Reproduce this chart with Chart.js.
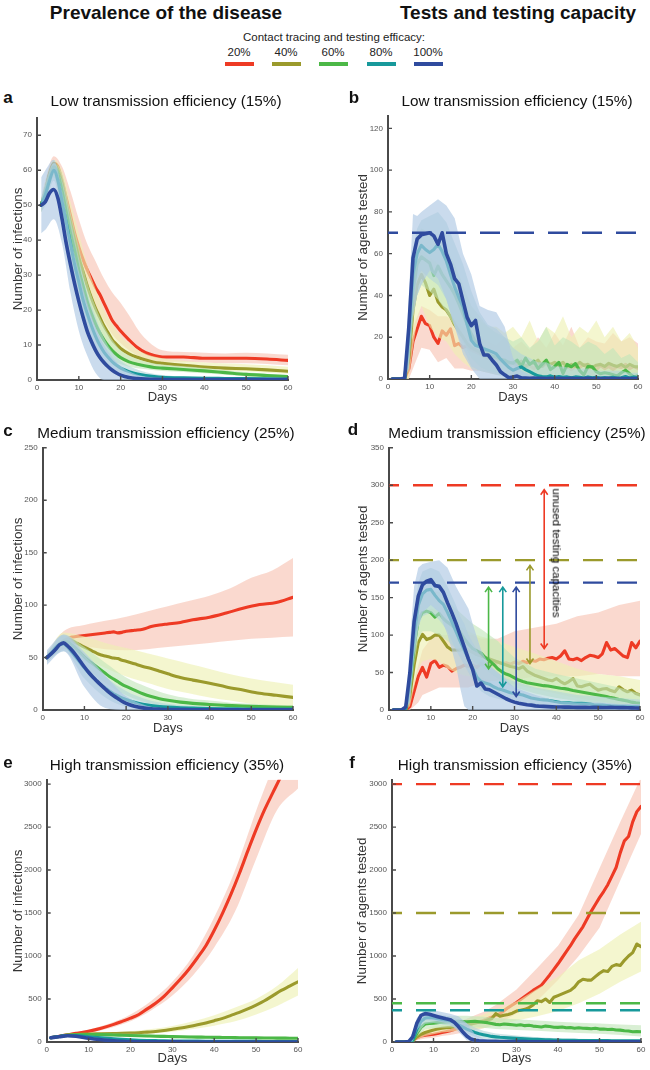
<!DOCTYPE html>
<html>
<head>
<meta charset="utf-8">
<title>Contact tracing and testing efficacy</title>
<script src="https://cdn.jsdelivr.net/npm/chart.js@4.4.1/dist/chart.umd.min.js"></script>
<style>
  body { margin: 0; background: #fff; font-family: 'Liberation Sans', Arial, Helvetica, sans-serif; }
  #page { position: relative; width: 650px; height: 1070px; overflow: hidden; }
  canvas { position: absolute; }
  .t { position: absolute; transform: translate(-50%, -50%); white-space: nowrap; color: #111; line-height: 1; }
  .hdr { font-weight: bold; font-size: 19px; }
  .lg { font-size: 11.5px; color: #222; }
  .sw { position: absolute; height: 4px; width: 29px; top: 62px; }
  .ttl { font-size: 15.3px; }
  .let { font-weight: bold; font-size: 17px; }
  .rot { font-size: 11.5px; color: #000; transform: translate(-50%, -50%) rotate(90deg); }
</style>
</head>
<body>
<div id="page">
  <canvas id="chartA"></canvas>
  <canvas id="chartB"></canvas>
  <canvas id="chartC"></canvas>
  <canvas id="chartD"></canvas>
  <canvas id="chartE"></canvas>
  <canvas id="chartF"></canvas>

  <div class="t hdr" style="left:166px;top:12px">Prevalence of the disease</div>
  <div class="t hdr" style="left:518px;top:12px">Tests and testing capacity</div>
  <div class="t lg" style="left:334px;top:38px">Contact tracing and testing efficacy:</div>
  <div class="t lg" style="left:239px;top:53px">20%</div>
  <div class="t lg" style="left:286px;top:53px">40%</div>
  <div class="t lg" style="left:333px;top:53px">60%</div>
  <div class="t lg" style="left:381px;top:53px">80%</div>
  <div class="t lg" style="left:428px;top:53px">100%</div>
  <div class="sw" style="left:225px;background:#ee3a24"></div>
  <div class="sw" style="left:272px;background:#9b9a2c"></div>
  <div class="sw" style="left:319px;background:#4cb847"></div>
  <div class="sw" style="left:367px;background:#17999b"></div>
  <div class="sw" style="left:414px;background:#2f4b9e"></div>

  <div class="t let" style="left:8px;top:97px">a</div>
  <div class="t ttl" style="left:166px;top:101px">Low transmission efficiency (15%)</div>
  <div class="t let" style="left:354px;top:97px">b</div>
  <div class="t ttl" style="left:517px;top:101px">Low transmission efficiency (15%)</div>
  <div class="t let" style="left:8px;top:430px">c</div>
  <div class="t ttl" style="left:166px;top:433px">Medium transmission efficiency (25%)</div>
  <div class="t let" style="left:353px;top:429px">d</div>
  <div class="t ttl" style="left:517px;top:433px">Medium transmission efficiency (25%)</div>
  <div class="t let" style="left:8px;top:762px">e</div>
  <div class="t ttl" style="left:167px;top:765px">High transmission efficiency (35%)</div>
  <div class="t let" style="left:352px;top:762px">f</div>
  <div class="t ttl" style="left:515px;top:765px">High transmission efficiency (35%)</div>

  <div class="t rot" style="left:556px;top:553px">unused testing capacities</div>
</div>

<script>
/* ---------- shared ---------- */
const dayTicks = [0, 10, 20, 30, 40, 50, 60];
const days60 = Array.from({ length: 60 }, (_, i) => i + 1);

/* ---------- a: infections, low transmission ---------- */
const dayA = [1,2,3,4,5,6,7,8,9,10,11,12,13,14,15,16,17,18,19,20,22,24,26,28,30,35,40,45,50,55,60];
const a20  = [50,54,59,62,61,57,52,47,42,38,34.5,31.5,29,26.5,24.5,22,19.5,17,15.5,14,11.5,9.3,7.8,7,6.6,6.6,6.2,6.2,6.2,6.0,5.6];
const a40  = [50,54,59,62,60,56,50,45,40,35,31,27,23.5,20.5,18,15.5,13.5,11.5,10.2,9,7.5,6.5,5.7,5.1,4.8,4.2,3.7,3.4,3.2,2.9,2.5];
const a60  = [50,54,58,61,59,54,48,42,37,31.5,27,22.5,19,16,13.5,11.5,9.8,8.4,7.3,6.4,5.2,4.5,4,3.6,3.4,3.0,2.6,2.1,1.6,1.3,1.0];
const a80  = [50,53,57,60,57,51,45,39,33,28,23,19,15.5,12.5,10,8,6.5,5.2,4.2,3.4,2.4,1.7,1.3,1.0,0.8,0.6,0.5,0.45,0.4,0.35,0.3];
const a100 = [50,51,53.5,54.5,52,46,39,33,27.5,22.5,18,14,11,8.5,6.5,5,3.8,2.8,2,1.4,0.7,0.4,0.25,0.2,0.15,0.1,0.1,0.1,0.1,0.1,0.1];
const bandDayA = [1,2,4,6,8,10,12,14,16,18,20,22,25,30,35,40,45,50,55,60];
const a20Lo  = [48,51,59,53,41,33,26,21,17,13,10.5,8.5,6.5,5.2,5.2,5,4.8,4.8,4.6,4.2];
const a20Hi  = [52,57,64,61,54,46,39,34,29,25,22,18.5,13,8.5,8,7.8,7.6,7.8,7.6,7.2];
const a40Lo  = [48,51,58,50,38,28,21,15,11,8,6.5,5.5,4.5,3.8,3.3,2.9,2.6,2.4,2.1,1.8];
const a40Hi  = [52,57,63,60,51,42,33,26,20,16,12.5,10.5,8,6.2,5.5,5,4.7,4.5,4.2,3.8];
const a60Lo  = [48,51,58,48,35,25,17,11,7.5,5.5,4.5,3.8,3.2,2.6,2.3,1.9,1.5,1.1,0.8,0.6];
const a60Hi  = [52,56,62,59,48,38,28,21,15.5,11.5,8.5,7,5.6,4.4,3.9,3.4,2.8,2.2,1.8,1.4];
const a80Lo  = [48,50,57,46,32,21,13,7.5,4.5,3,2,1.3,0.7,0.4,0.3,0.2,0.2,0.2,0.2,0.1];
const a80Hi  = [52,56,62,57,46,35,25,18,12,8,5.5,4,2.6,1.4,1,0.9,0.8,0.7,0.6,0.5];
const a100Lo = [42,43,46,39,25,14,7,2,0,0,0,0,0,0,0,0,0,0,0,0];
const a100Hi = [58,60,63,54,41,31,22,15,10,6.5,4,2.5,1.2,0.6,0.4,0.3,0.3,0.3,0.3,0.3];
const ticksA = [0,10,20,30,40,50,60,70];

/* ---------- b: tests, low transmission ---------- */
const b20  = [0,0,0,0,5,18,24,30,26.5,25.5, 20,17,23,21,24,16,17,15,16,14, 13,12,11,10,10.5,9,8.5,8,7,7.5, 6,7.5,5.5,6.5,5,7,6,7.5,5,6, 7,5,6.5,4.5,6,5.5,7,5,6,4.5, 6.5,5,6,4.5,6,5.5,7,5,6,5];
const b40  = [0,0,0,0,10,33,45,50,46,40, 43,37,34.5,33,30,26,23,20,17,15, 14,13,11,10,9.5,10,9,8,7.5,8, 7,8.5,6,7.5,7.4,9,6,8.5,7,8, 6.5,8,5.5,7,6,8,6.5,7,5.5,6.6, 7,6,7.5,6.6,6,7,5.5,7,6,5.8];
const b60  = [0,0,0,0,15,42,55,58.5,57,55.5, 49.5,54,50,47,44,40.5,36,31,26,21.5, 18,15.5,13.5,12,11,10.5,9.5,9,8,7.5, 9,6,10,7,8.5,5,7,9,4.5,6, 8,2.6,7,5.8,7.4,4,2,6,5.8,3.5, 2.5,3,2.6,2,1.4,3,4.2,2.5,1,1.5];
const b80  = [0,0,0,0,20,50,60,64,62,60.5, 62,64.5,61,56.5,50,44,39,34.5,26,18.5, 16,15.5,14.5,13.8,13,12,9.5,7.5,5.5,4.2, 5,5.8,4.5,3.5,2.5,1.5,1.2,1,1.5,0.8, 1.2,0.8,1,0.6,1,0.8,0.5,1,0.6,0.8, 0.5,0.7,0.5,0.8,0.5,0.6,1.2,0.5,1,0.6];
const b100 = [0,0,0,0.5,25,58,67,69,69.5,70, 68.5,64.5,70,60,55,48,45.5,37.5,29.5,25.5, 28,17,11.5,11.5,9,6.7,3.5,2,0.6,1, 1.4,0.5,0.4,0.3,0.5,0.3,0.3,0.2,0.3,0.2, 0.3,0.2,0.2,0.3,0.2,0.2,0.2,0.3,0.2,0.2, 0.2,0.2,0.3,0.2,0.2,0.2,0.2,0.2,0.2,0.2];
const bandDayB = [4,5,6,7,8,10,12,14,16,18,20,22,24,26,28,30,32,34,36,38,40,42,44,46,48,50,52,54,56,58,60];
const b20Lo  = [0,0,5,10,15,14,8,10,5,5,4,4,3,2,2,1,1,0,0,0,0,0,0,0,0,0,0,0,0,0,0];
const b20Hi  = [0,15,25,30,35,33,30,30,28,25,22,20,18,16,20,15,18,14,20,15,22,16,25,15,20,18,17,22,18,20,17];
const b40Lo  = [0,0,15,28,35,25,20,18,12,8,5,4,3,2,2,1,1,0,0,0,0,0,0,0,0,0,0,0,0,0,0];
const b40Hi  = [0,25,45,55,62,58,55,50,42,35,30,28,25,25,22,25,20,28,18,25,22,30,20,25,22,28,20,25,18,22,15];
const b60Lo  = [0,5,28,40,45,42,38,32,25,18,10,6,4,3,2,1,1,0,0,0,0,0,0,0,0,0,0,0,0,0,0];
const b60Hi  = [0,30,55,68,72,70,68,62,55,45,35,30,25,22,20,18,20,15,18,25,16,20,18,15,18,16,12,15,10,12,8];
const b80Lo  = [0,8,35,48,52,48,45,38,25,15,6,4,3,2,1,0,0,0,0,0,0,0,0,0,0,0,0,0,0,0,0];
const b80Hi  = [0,30,62,72,76,78,80,75,65,55,42,32,26,24,20,15,12,10,8,8,6,6,5,5,5,4,4,4,4,3,3];
const b100Lo = [0,5,30,40,45,52,48,38,25,12,5,0,0,0,0,0,0,0,0,0,0,0,0,0,0,0,0,0,0,0,0];
const b100Hi = [0,40,79,78,80,83,86,83,77,60,50,35,33,32,25,10,4,2,1,1,1,1,1,1,1,1,1,1,1,1,1];
const ticksB = [0,20,40,60,80,100,120];
const capB = [70];
const capSeriesB = [4];

/* ---------- c: infections, medium transmission ---------- */
const dayC = [1,2,3,4,5,6,7,8,9,10,11,12,13,14,15,16,17,18,19,20,22,24,26,28,30,33,36,40,44,48,52,56,60];
const c20  = [50,54,59,63,66,68.5,69.5,70,70.5,71,71.5,72,72.5,73,73.5,74,74.5,73.5,74,75,76,77,79.5,81,82,83.5,86,88.5,92.5,97,100.5,102.5,107.5];
const c40  = [50,54,59,63,66,67.5,66,64,62,60,58,56,54,52.5,51.5,50.5,49.5,49,47.5,46.5,44,41.5,39.5,37,34.5,31,28.5,25.5,22,19,16,14,12];
const c60  = [50,54,59,63,65,65,62,58.5,54.5,50.5,47,44,41,38,35,32,29.5,27,24.5,22.5,19,15.5,12.8,10.8,9.3,7.5,6.3,5.2,4.4,3.7,3.2,2.8,2.5];
const c80  = [50,54,59,62.5,63,60,55,50,45,40,35.5,31.5,27.5,24,21,18,15.5,13.5,11.5,10,7.3,5.5,4.3,3.4,2.8,2.2,1.8,1.3,1.1,1,0.9,0.8,0.8];
const c100 = [50,53.5,57.5,62,64,61,57,52,46.5,41,36,31.5,27.5,23.7,20,16.5,13.5,11,8.3,6.3,3.5,2,1.2,0.8,0.5,0.4,0.3,0.3,0.2,0.2,0.2,0.2,0.2];
const bandDayC = [1,5,10,15,20,25,30,35,40,45,50,55,60];
const c20Lo  = [46,58,60,58,57,58,60,62,64,66,68,69,70];
const c20Hi  = [54,75,81,85,89,94,99,104,109,116,126,133,145];
const c40Lo  = [46,60,50,40,32,26,20,16,12,9,6,4,2];
const c40Hi  = [54,74,70,64,59,54,49,44,39,34,30,27,24];
const c60Lo  = [46,58,42,26,14,7,4,2.5,2,1.5,1,0.8,0.5];
const c60Hi  = [54,72,60,45,31,22,15,11,9,7,6,5,4.5];
const c80Lo  = [46,56,30,12,3,1,0.5,0.3,0.2,0.2,0.2,0.2,0.2];
const c80Hi  = [54,71,52,32,18,10,6,4,3,2.5,2,2,2];
const c100Lo = [43,56,22,2,0,0,0,0,0,0,0,0,0];
const c100Hi = [57,72,55,33,13,4,1.5,1,1,1,1,1,1];
const ticksC = [0,50,100,150,200,250];

/* ---------- d: tests, medium transmission ---------- */
const d20  = [0,0,0,0,5,25,45,57,44,62, 66,57,60,58,52,55,57,60,58,60, 57,62,60,63,60,64,62,63,61,64, 62,65,63,66,65,68,67,69,70,68, 72,79,68,67,69,66,70,73,72,70, 75,90,80,82,77,72,70,90,83,92];
const d40  = [0,0,0,0,20,60,90,101,94,96, 100,100,92,84,80,80,80,82,80,77, 74,72,70,68,66,64,62,60,58,57, 55,58,52,49,46,44,42,40,39,42, 38,35,38,42,32,31,33,34.5,30,26.5, 28,28.7,26,24.3,31,27,24.3,26.5,22,20];
const d60  = [0,0,0,1,30,85,120,130,132,130, 124,129,122,117,113,108,104,95,88,82, 79,76,70,66,61,55,51,48,46,43, 40,38,36.5,35.5,34.5,33.5,32.5,32,31,30, 29,28.5,27.5,26,25,24,23,22,21,20, 19,18,16.5,15.5,14,13,12,10.5,9.5,8.8];
const d80  = [0,0,0,2,40,100,140,155,160,161, 153,146,141,130,118,105,92,80,68,56, 44,38,36,34.5,31,28.5,27,25,23,22, 21,20,18,16,15,14,13.5,13,12,11, 10,9.5,9.5,9,9,8.8,8.5,8,7,6.5, 6.5,6,5.5,5.3,5,5,4.8,4.6,4.5,4.4];
const d100 = [0,0,0,4,50,118,152,167,172,174, 166,165,157,143,130,116,100,84,68,54, 32,36,28,27,24,21,18,15,12.5,10.5, 9,8,7,6.5,5.5,5,4.8,4.5,4.2,4, 4,3.8,3.8,3.6,3.5,3.5,3.5,3.4,3.5,3.5, 3.4,3.4,3.5,3.3,3.2,3.2,3,2.8,2.6,2.5];
const bandDayD = [4,5,6,7,8,10,12,14,16,17,18,19,20,22,24,26,28,30,35,40,45,50,55,60];
const d20Lo  = [0,0,5,10,20,25,30,30,30,30,30,30,32,35,38,40,40,40,45,45,45,48,45,45];
const d20Hi  = [0,10,40,60,80,95,100,100,100,100,100,100,100,95,95,95,100,105,110,115,125,130,140,146];
const d40Lo  = [0,5,30,55,65,68,65,55,50,48,46,45,44,42,40,38,36,34,28,22,16,12,8,5];
const d40Hi  = [0,35,90,120,130,135,132,120,112,110,108,105,102,98,95,92,88,84,75,65,55,48,45,40];
const d60Lo  = [0,10,60,95,105,105,100,92,82,78,74,70,66,58,50,42,35,30,22,16,12,8,5,2];
const d60Hi  = [0,50,110,145,155,158,158,145,135,130,125,120,115,108,100,92,80,70,55,48,42,36,30,22];
const d80Lo  = [0,15,75,110,125,130,120,105,80,70,60,50,40,25,18,15,12,10,6,4,2,1,0,0];
const d80Hi  = [0,65,130,170,185,190,185,165,140,125,115,100,90,70,58,50,42,38,30,25,20,18,16,14];
const d100Lo = [0,10,70,110,130,140,130,100,60,30,5,0,0,0,0,0,0,0,0,0,0,0,0,0];
const d100Hi = [5,90,165,190,195,198,200,190,165,155,145,135,115,80,60,50,40,30,20,12,10,10,8,8];
const ticksD = [0,50,100,150,200,250,300,350];
const capD = [300, 200, 170];
const capSeriesD = [0, 1, 4];
const arrowDay    = [23.8, 27.2, 30.4, 33.7, 37.1];
const arrowLow    = [55, 31, 18, 62, 82];
const arrowHigh   = [164, 164, 164, 193, 294];
const arrowSeries = [2, 3, 4, 1, 0];

/* ---------- e: infections, high transmission ---------- */
const dayE = [1,3,5,7,10,13,16,18,20,22,24,26,28,30,32,34,36,38,40,42,44,46,48,50,52,54,56,58,60];
const e20  = [50,68,85,100,125,160,205,240,277,320,385,450,530,630,735,850,980,1120,1300,1500,1720,1960,2220,2470,2700,2900,3100,3320,3550];
const e40  = [50,65,80,88,92,95,98,100,103,108,115,122,133,148,162,180,200,222,248,275,310,345,385,430,480,540,600,650,700];
const e60  = [50,65,80,85,88,86,82,79,76,73,70,67,65,63,61,59,57,56,54,53,52,50,49,48,47,46,45,44,43];
const e80  = [50,64,76,75,62,48,36,30,25,21,18,16,14,12.5,11.5,10.5,10,9.5,9,8.5,8,7.5,7,6.8,6.5,6.2,6,5.8,5.5];
const e100 = [50,62,72,66,45,26,13,8,5,3.5,2.5,1.8,1.3,1,0.9,0.8,0.8,0.7,0.7,0.6,0.6,0.6,0.5,0.5,0.5,0.5,0.5,0.5,0.5];
const bandDayE = [1,5,10,15,20,25,30,35,40,45,50,55,60];
const e20Lo  = [45,78,108,160,240,370,540,780,1100,1520,2130,2700,2950];
const e20Hi  = [55,98,145,215,320,480,700,1010,1450,2000,2690,3350,4200];
const e40Lo  = [45,72,80,82,85,98,118,150,190,240,320,420,540];
const e40Hi  = [55,88,105,115,125,150,185,240,310,400,500,650,860];
const e60Lo  = [45,70,75,68,60,52,46,42,38,35,32,30,28];
const e60Hi  = [55,90,100,100,95,88,82,75,70,66,63,60,58];
const e80Lo  = [45,68,50,25,12,7,5,4,3,3,2,2,2];
const e80Hi  = [55,84,75,55,40,32,24,20,17,15,13,12,11];
const e100Lo = [45,62,30,5,0,0,0,0,0,0,0,0,0];
const e100Hi = [55,82,62,35,15,6,3,2,1.5,1,1,1,1];
const ticksEF = [0,500,1000,1500,2000,2500,3000];

/* ---------- f: tests, high transmission ---------- */
const f20  = [0,0,0,0,20,50,70,80,85,90, 100,110,120,130,145,160,175,190,205,220, 235,250,270,290,310,330,365,400,430,460, 495,530,565,600,630,660,720,780,845,910, 980,1050,1120,1200,1270,1340,1430,1520,1600,1680, 1750,1830,1930,2030,2200,2340,2390,2560,2680,2740];
const f40  = [0,0,0,0,15,60,90,110,125,140, 150,160,165,170,180,190,195,200,210,220, 230,240,255,270,330,300,310,320,335,360, 370,380,400,430,480,470,500,460,520,540, 560,580,600,640,700,730,720,720,760,800, 830,820,880,900,890,950,1000,1040,1140,1110];
const f60  = [0,0,0,0,15,100,170,210,215,220, 225,230,232,235,238,240,238,235,238,240, 235,230,225,215,205,200,210,205,200,195, 200,190,195,185,180,175,185,180,172,170, 175,165,168,160,165,160,158,155,160,150, 152,145,148,140,138,130,128,120,122,120];
const f80  = [0,0,0,0,20,150,240,280,285,280, 270,262,255,248,225,200,175,150,130,110, 95,85,75,65,60,55,52,48,45,42, 40,37,35,32,30,28,26,25,23,22, 21,20,19,18.5,18,17.5,17,16.5,16,16, 15.5,15.5,15,15,15,14.5,14.5,14,14,14];
const f100 = [0,0,0,5,60,220,310,330,322,308, 295,282,270,260,230,180,120,70,35,20, 14,11,9,8,7,6,5.5,5,4.5,4, 4,3.8,3.5,3.3,3,2.8,2.6,2.5,2.4,2.2, 2,2,2,1.8,1.8,1.6,1.6,1.5,1.5,1.4, 1.4,1.3,1.3,1.2,1.2,1.1,1.1,1,1,1];
const bandDayF = [4,5,6,8,10,12,14,16,18,20,22,25,30,35,40,45,50,55,60];
const f20Lo  = [0,0,20,40,50,70,80,100,120,140,160,200,330,480,720,1000,1330,1880,2420];
const f20Hi  = [0,40,80,120,140,160,190,230,270,310,350,430,610,860,1120,1480,2020,2560,3080];
const f40Lo  = [0,0,30,70,90,110,120,130,140,150,160,190,250,300,360,450,560,700,820];
const f40Hi  = [0,40,100,150,180,200,220,240,260,290,320,380,470,620,760,950,1080,1250,1400];
const f60Lo  = [0,0,60,150,160,165,170,170,170,170,165,150,140,130,115,105,95,80,65];
const f60Hi  = [0,40,150,260,280,290,300,305,305,300,295,280,265,250,235,225,215,205,195];
const f80Lo  = [0,0,90,210,220,205,190,150,100,60,40,25,15,10,8,6,5,5,5];
const f80Hi  = [0,60,210,330,330,315,300,260,215,170,130,100,75,55,45,38,32,30,28];
const f100Lo = [0,10,140,260,250,230,210,120,20,0,0,0,0,0,0,0,0,0,0];
const f100Hi = [10,120,280,380,370,350,330,300,220,90,40,20,12,8,6,5,5,5,5];
const capF = [3000, 1500, 450, 370];
const capSeriesF = [0, 1, 2, 3];

/* ---------- styles ---------- */
// 20%, 40%, 60%, 80%, 100%
const SERIES_COLORS = ['#ee3a24', '#9b9a2c', '#4cb847', '#17999b', '#2f4b9e'];
// 浅色、较不透明的置信带: 后画的带会把前面的线"洗淡"
const BAND_COLORS = ['rgba(247,193,178,0.62)', 'rgba(238,241,178,0.62)', 'rgba(193,229,186,0.62)', 'rgba(178,213,217,0.62)', 'rgba(175,200,227,0.66)'];
const AXIS_COLOR = '#4a4a4a';

// canvas box [left, top, width, height] and plot box [left, right, top, bottom], page pixels
const GEO = {
    a: { box: [0, 108, 300, 300],   plot: [37, 288, 117.5, 380],  daysY: 397,  yTitleX: 18 },
    b: { box: [330, 106, 320, 302], plot: [388, 638, 114.4, 379], daysY: 397,  yTitleX: 363 },
    c: { box: [0, 438, 305, 300],   plot: [42.7, 293, 446, 710],  daysY: 728,  yTitleX: 18 },
    d: { box: [330, 438, 320, 300], plot: [389, 640, 446, 710],   daysY: 728,  yTitleX: 363 },
    e: { box: [0, 770, 310, 300],   plot: [46.7, 298, 778.8, 1042], daysY: 1058, yTitleX: 18 },
    f: { box: [330, 770, 320, 300], plot: [392, 641, 778.8, 1042],  daysY: 1058, yTitleX: 362 }
};

const pts = (days, vals) => vals.map((v, i) => ({ x: days[i], y: v }));

// 坐标轴内侧刻度
const inwardTicks = {
    id: 'inwardTicks',
    afterDraw(chart) {
        const { ctx, chartArea, scales: { x, y } } = chart;
        ctx.save();
        ctx.strokeStyle = AXIS_COLOR;
        ctx.lineWidth = 1.4;
        ctx.beginPath();
        x.ticks.forEach(t => {
            const px = x.getPixelForValue(t.value);
            if (px > chartArea.left + 2) {
                ctx.moveTo(px, chartArea.bottom);
                ctx.lineTo(px, chartArea.bottom - 4);
            }
        });
        y.ticks.forEach(t => {
            const py = y.getPixelForValue(t.value);
            if (py < chartArea.bottom - 2) {
                ctx.moveTo(chartArea.left, py);
                ctx.lineTo(chartArea.left + 4, py);
            }
        });
        ctx.stroke();
        ctx.restore();
    }
};

// 双向箭头 (panel d)
const capacityArrows = {
    id: 'capacityArrows',
    afterDatasetsDraw(chart) {
        const { ctx, scales: { x, y } } = chart;
        ctx.save();
        ctx.lineWidth = 1.6;
        arrowDay.forEach((d, i) => {
            const px = x.getPixelForValue(d);
            const p1 = y.getPixelForValue(arrowLow[i]);
            const p2 = y.getPixelForValue(arrowHigh[i]);
            ctx.strokeStyle = SERIES_COLORS[arrowSeries[i]];
            ctx.beginPath();
            ctx.moveTo(px, p1);
            ctx.lineTo(px, p2);
            ctx.moveTo(px - 3.5, p2 + 5);
            ctx.lineTo(px, p2);
            ctx.lineTo(px + 3.5, p2 + 5);
            ctx.moveTo(px - 3.5, p1 - 5);
            ctx.lineTo(px, p1);
            ctx.lineTo(px + 3.5, p1 - 5);
            ctx.stroke();
        });
        ctx.restore();
    }
};

function makePanel(id, geo, yMax, yTicks, yTitle, lines, bands, caps, smooth, extraPlugins) {
    const [cx, cy, cw, ch] = geo.box;
    const [L, R, T, B] = geo.plot;
    const canvas = document.getElementById(id);
    canvas.width = cw;
    canvas.height = ch;
    canvas.style.left = cx + 'px';
    canvas.style.top = cy + 'px';

    const curve = smooth ? { cubicInterpolationMode: 'monotone' } : { tension: 0 };
    const datasets = [];

    // 每个系列: 置信带 -> 均值线 (后画的带会盖住前面的线)
    lines.forEach((ln, i) => {
        const bd = bands[i];
        datasets.push({
            data: pts(bd[0], bd[2]), fill: '+1', backgroundColor: BAND_COLORS[i],
            borderColor: 'transparent', borderWidth: 0, pointRadius: 0, order: 100 - 3 * i, ...curve
        });
        datasets.push({
            data: pts(bd[0], bd[1]), fill: false,
            borderColor: 'transparent', borderWidth: 0, pointRadius: 0, order: 99 - 3 * i, ...curve
        });
        datasets.push({
            data: pts(ln[0], ln[1]), fill: false, borderColor: SERIES_COLORS[i],
            borderWidth: i === 4 ? 3.6 : 3.1, borderJoinStyle: 'round', borderCapStyle: 'round',
            pointRadius: 0, order: 98 - 3 * i, ...curve
        });
    });

    // 检测能力虚线
    if (caps) {
        caps[0].forEach((v, k) => {
            datasets.push({
                data: [{ x: 0, y: v }, { x: 60, y: v }], fill: false,
                borderColor: SERIES_COLORS[caps[1][k]], borderWidth: 2.4,
                borderDash: [20, 14], borderDashOffset: 10, pointRadius: 0, order: 0
            });
        });
    }

    const titleFont = 13.4;
    const daysFont = 13;

    return new Chart(canvas, {
        type: 'line',
        data: { datasets },
        options: {
            responsive: false,
            animation: false,
            events: [],
            layout: { padding: { top: T - cy, right: cx + cw - R, left: 0, bottom: 0 } },
            plugins: { legend: { display: false }, tooltip: { enabled: false } },
            scales: {
                x: {
                    type: 'linear', min: 0, max: 60,
                    grid: { display: false, drawTicks: false },
                    border: { display: true, color: AXIS_COLOR, width: 2 },
                    afterBuildTicks: s => { s.ticks = dayTicks.map(v => ({ value: v })); },
                    afterFit: s => { s.height = cy + ch - B; },
                    ticks: {
                        color: '#555', padding: 3, maxRotation: 0, autoSkip: false,
                        font: { size: 8, family: "'Liberation Sans', Arial, sans-serif" },
                        callback: v => String(v)
                    },
                    title: {
                        display: true, text: 'Days', color: '#333',
                        font: { size: daysFont, family: "'Liberation Sans', Arial, sans-serif" },
                        padding: { top: 0, bottom: (cy + ch) - geo.daysY - daysFont * 0.6 }
                    }
                },
                y: {
                    type: 'linear', min: 0, max: yMax,
                    grid: { display: false, drawTicks: false },
                    border: { display: true, color: AXIS_COLOR, width: 2 },
                    afterBuildTicks: s => { s.ticks = yTicks.map(v => ({ value: v })); },
                    afterFit: s => { s.width = L - cx; },
                    ticks: {
                        color: '#555', padding: 5,
                        font: { size: 8, family: "'Liberation Sans', Arial, sans-serif" },
                        callback: v => String(v)
                    },
                    title: {
                        display: true, text: yTitle, color: '#333',
                        font: { size: titleFont, family: "'Liberation Sans', Arial, sans-serif" },
                        padding: { top: geo.yTitleX - cx - titleFont * 0.6, bottom: 0 }
                    }
                }
            }
        },
        plugins: [inwardTicks].concat(extraPlugins || [])
    });
}

makePanel('chartA', GEO.a, 75, ticksA, 'Number of infections',
    [[dayA, a20], [dayA, a40], [dayA, a60], [dayA, a80], [dayA, a100]],
    [[bandDayA, a20Lo, a20Hi], [bandDayA, a40Lo, a40Hi], [bandDayA, a60Lo, a60Hi], [bandDayA, a80Lo, a80Hi], [bandDayA, a100Lo, a100Hi]],
    null, true);

makePanel('chartB', GEO.b, 126, ticksB, 'Number of agents tested',
    [[days60, b20], [days60, b40], [days60, b60], [days60, b80], [days60, b100]],
    [[bandDayB, b20Lo, b20Hi], [bandDayB, b40Lo, b40Hi], [bandDayB, b60Lo, b60Hi], [bandDayB, b80Lo, b80Hi], [bandDayB, b100Lo, b100Hi]],
    [capB, capSeriesB], false);

makePanel('chartC', GEO.c, 250, ticksC, 'Number of infections',
    [[dayC, c20], [dayC, c40], [dayC, c60], [dayC, c80], [dayC, c100]],
    [[bandDayC, c20Lo, c20Hi], [bandDayC, c40Lo, c40Hi], [bandDayC, c60Lo, c60Hi], [bandDayC, c80Lo, c80Hi], [bandDayC, c100Lo, c100Hi]],
    null, true);

makePanel('chartD', GEO.d, 350, ticksD, 'Number of agents tested',
    [[days60, d20], [days60, d40], [days60, d60], [days60, d80], [days60, d100]],
    [[bandDayD, d20Lo, d20Hi], [bandDayD, d40Lo, d40Hi], [bandDayD, d60Lo, d60Hi], [bandDayD, d80Lo, d80Hi], [bandDayD, d100Lo, d100Hi]],
    [capD, capSeriesD], false, [capacityArrows]);

makePanel('chartE', GEO.e, 3050, ticksEF, 'Number of infections',
    [[dayE, e20], [dayE, e40], [dayE, e60], [dayE, e80], [dayE, e100]],
    [[bandDayE, e20Lo, e20Hi], [bandDayE, e40Lo, e40Hi], [bandDayE, e60Lo, e60Hi], [bandDayE, e80Lo, e80Hi], [bandDayE, e100Lo, e100Hi]],
    null, true);

makePanel('chartF', GEO.f, 3050, ticksEF, 'Number of agents tested',
    [[days60, f20], [days60, f40], [days60, f60], [days60, f80], [days60, f100]],
    [[bandDayF, f20Lo, f20Hi], [bandDayF, f40Lo, f40Hi], [bandDayF, f60Lo, f60Hi], [bandDayF, f80Lo, f80Hi], [bandDayF, f100Lo, f100Hi]],
    [capF, capSeriesF], false);
</script>
</body>
</html>
